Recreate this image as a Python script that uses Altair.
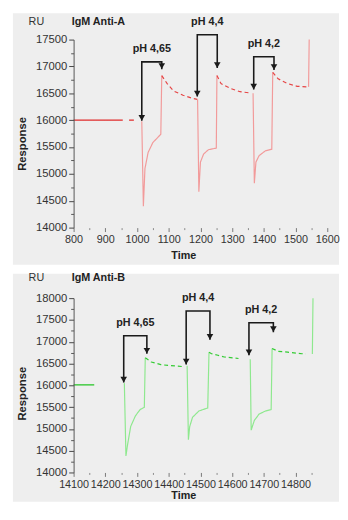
import altair as alt
import pandas as pd

# ---------------- Panel A : IgM Anti-A (red) ----------------
a_seg_t = [
    [800, 955],
    [975, 990],
    [1015, 1020, 1025, 1035, 1050, 1065, 1075, 1078],
    [1078, 1095, 1115, 1145, 1175, 1190],
    [1191, 1195, 1200, 1210, 1225, 1245, 1250, 1252],
    [1252, 1265, 1295, 1325, 1360],
    [1366, 1370, 1375, 1385, 1405, 1425, 1428],
    [1428, 1445, 1475, 1505, 1538],
    [1541, 1543],
]
a_seg_v = [
    [16000, 16000],
    [16000, 16000],
    [15980, 14400, 15100, 15400, 15585, 15675, 15740, 16830],
    [16830, 16680, 16545, 16465, 16405, 16388],
    [16390, 14670, 15220, 15370, 15450, 15475, 15480, 16830],
    [16830, 16680, 16590, 16530, 16505],
    [16500, 14825, 15220, 15340, 15430, 15460, 16890],
    [16890, 16770, 16680, 16630, 16620],
    [16620, 17500],
]
a_seg_kind = ["base", "base", "spike", "tail", "spike", "tail", "spike", "tail", "spike"]

a_br_left = [1015, 1190, 1368]
a_br_right = [1078, 1253, 1432]
a_br_top = [17085, 17590, 17180]
a_br_ltip = [15990, 16440, 16570]
a_br_rtip = [16950, 16970, 16935]
a_br_label = ["pH 4,65", "pH 4,4", "pH 4,2"]

a_xticks = [800, 900, 1000, 1100, 1200, 1300, 1400, 1500, 1600]
a_xminor = [850, 950, 1050, 1150, 1250, 1350, 1450, 1550]
a_yticks = [14000, 14500, 15000, 15500, 16000, 16500, 17000, 17500]
a_yminor = [14250, 14750, 15250, 15750, 16250, 16750, 17250]

# ---------------- Panel B : IgM Anti-B (green) ----------------
b_seg_t = [
    [14100, 14165],
    [14260, 14265, 14270, 14280, 14295, 14310, 14323, 14326],
    [14326, 14345, 14375, 14400, 14445],
    [14458, 14462, 14466, 14475, 14495, 14523, 14527],
    [14527, 14535, 14555, 14575, 14620],
    [14657, 14660, 14670, 14685, 14705, 14723, 14726],
    [14726, 14745, 14775, 14820, 14832],
    [14853, 14855],
]
b_seg_v = [
    [16010, 16010],
    [16050, 14380, 14630, 15055, 15300, 15445, 15495, 16630],
    [16630, 16535, 16475, 16455, 16430],
    [16450, 14750, 15050, 15265, 15410, 15480, 16760],
    [16760, 16725, 16690, 16650, 16615],
    [16600, 14970, 15195, 15340, 15410, 15445, 16845],
    [16845, 16780, 16760, 16725, 16720],
    [16720, 18000],
]
b_seg_kind = ["base", "spike", "tail", "spike", "tail", "spike", "tail", "spike"]

b_br_left = [14258, 14455, 14653]
b_br_right = [14331, 14530, 14730]
b_br_top = [17135, 17705, 17435]
b_br_ltip = [16065, 16475, 16690]
b_br_rtip = [16725, 17045, 17220]
b_br_label = ["pH 4,65", "pH 4,4", "pH 4,2"]

b_xticks = [14100, 14200, 14300, 14400, 14500, 14600, 14700, 14800]
b_xminor = [14150, 14250, 14350, 14450, 14550, 14650, 14750, 14850]
b_yticks = [14000, 14500, 15000, 15500, 16000, 16500, 17000, 17500, 18000]
b_yminor = [14250, 14750, 15250, 15750, 16250, 16750, 17250, 17750]

FONT = "Liberation Sans"
BG = "#eeeeee"


def sensor_df(seg_t, seg_v, kinds):
    rows = []
    for i, (ts, vs, k) in enumerate(zip(seg_t, seg_v, kinds)):
        for j, (t, v) in enumerate(zip(ts, vs)):
            rows.append(dict(t=t, v=v, seg=i, kind=k, ord=j))
    return pd.DataFrame(rows)


def bracket_dfs(left, right, top, ltip, rtip, labels):
    lines, heads, texts = [], [], []
    for i in range(len(left)):
        pts = [(left[i], ltip[i]), (left[i], top[i]), (right[i], top[i]), (right[i], rtip[i])]
        for j, (t, v) in enumerate(pts):
            lines.append(dict(t=t, v=v, b=i, ord=j))
        heads.append(dict(t=left[i], v=ltip[i]))
        heads.append(dict(t=right[i], v=rtip[i]))
        texts.append(dict(t=(left[i] + right[i]) / 2, v=top[i], label=labels[i]))
    return pd.DataFrame(lines), pd.DataFrame(heads), pd.DataFrame(texts)


def panel(seg_t, seg_v, kinds, colors, xdom, ydom, xticks, xminor, yticks, yminor,
          br, title, w, h, bg_top, bg_bottom, text_y, ytitle_y, xtitle_pad):
    xs = alt.Scale(domain=xdom, nice=False, zero=False)
    ys = alt.Scale(domain=ydom, nice=False, zero=False)
    df = sensor_df(seg_t, seg_v, kinds)
    bl, bh, bt = bracket_dfs(*br)
    one = pd.DataFrame({"a": [0]})

    xaxis = alt.Axis(values=xticks, format="d", domain=False, grid=False, tickSize=4,
                     tickColor="#777", labelFontSize=11, labelColor="#333", labelPadding=2,
                     labelFont=FONT, labelOverlap=False, labelFlush=False,
                     title="Time", titleFont=FONT, titleFontSize=11, titleFontWeight="bold",
                     titleColor="#222", titlePadding=xtitle_pad, titleX=112, orient="bottom",
                     zindex=1)
    yaxis = alt.Axis(values=yticks, format="d", domain=True, domainColor="#555", grid=False,
                     tickSize=5, tickColor="#444", labelFontSize=11.5, labelColor="#333",
                     labelPadding=2, labelFont=FONT, labelOverlap=False, labelFlush=False,
                     title="Response", titleFont=FONT, titleFontSize=11.5,
                     titleFontWeight="bold", titleColor="#222", titlePadding=8,
                     titleY=ytitle_y, orient="left", zindex=1)
    xminor_axis = alt.Axis(values=xminor, domain=False, grid=False, labels=False, tickSize=2,
                           tickColor="#888", title=None, orient="bottom", zindex=1)
    yminor_axis = alt.Axis(values=yminor, domain=False, grid=False, labels=False, tickSize=3,
                           tickColor="#555", title=None, orient="left", zindex=1)

    bg = alt.Chart(one).mark_rect(color=BG).encode(
        x=alt.value(-62), x2=alt.value(w + 12), y=alt.value(bg_top), y2=alt.value(bg_bottom))

    kdom = ["base", "spike", "tail"]
    line = alt.Chart(df).mark_line(strokeWidth=1.2).encode(
        x=alt.X("t:Q", scale=xs, axis=xaxis),
        y=alt.Y("v:Q", scale=ys, axis=yaxis),
        detail="seg:N",
        order="ord:Q",
        color=alt.Color("kind:N", scale=alt.Scale(domain=kdom, range=colors), legend=None),
        strokeDash=alt.StrokeDash("kind:N", scale=alt.Scale(domain=kdom, range=[[1, 0], [1, 0], [4, 3]]),
                                  legend=None),
    )

    brl = alt.Chart(bl).mark_line(color="#1a1a1a", strokeWidth=1.6).encode(
        x=alt.X("t:Q", scale=xs, axis=None),
        y=alt.Y("v:Q", scale=ys, axis=None),
        detail="b:N",
        order="ord:Q",
    )
    heads = alt.Chart(bh).mark_point(shape="triangle-down", filled=True, size=45, opacity=1,
                                     color="#1a1a1a", yOffset=-3).encode(
        x=alt.X("t:Q", scale=xs, axis=xminor_axis),
        y=alt.Y("v:Q", scale=ys, axis=yminor_axis),
    )
    labels = alt.Chart(bt).mark_text(font=FONT, fontSize=11, fontWeight="bold", color="#222",
                                     baseline="middle", dy=-13).encode(
        x=alt.X("t:Q", scale=xs, axis=None),
        y=alt.Y("v:Q", scale=ys, axis=None),
        text="label:N",
    )
    ru = alt.Chart(one).mark_text(text="RU", font=FONT, fontSize=11, color="#333",
                                  baseline="middle", align="center").encode(
        x=alt.value(-38), y=alt.value(text_y))
    ttl = alt.Chart(one).mark_text(text=title, font=FONT, fontSize=11, fontWeight="bold",
                                   color="#222", baseline="middle", align="left").encode(
        x=alt.value(-2), y=alt.value(text_y))

    return alt.layer(bg, line, brl, heads, labels, ru, ttl).resolve_axis(
        x="independent", y="independent").properties(width=w, height=h)


W = 259
top = panel(a_seg_t, a_seg_v, a_seg_kind, ["#e02a2a", "#f29a9a", "#e64545"],
            [800, 1600], [14000, 17500], a_xticks, a_xminor, a_yticks, a_yminor,
            (a_br_left, a_br_right, a_br_top, a_br_ltip, a_br_rtip, a_br_label),
            "IgM Anti-A", W, 192, -27, 230, -18, 106, 6)
bottom = panel(b_seg_t, b_seg_v, b_seg_kind, ["#22c422", "#8ee88e", "#33cc33"],
               [14100, 14900], [14000, 18000], b_xticks, b_xminor, b_yticks, b_yminor,
               (b_br_left, b_br_right, b_br_top, b_br_ltip, b_br_rtip, b_br_label),
               "IgM Anti-B", W, 178, -25, 208, -20, 97, 1)

chart = alt.vconcat(top, bottom, spacing=8).resolve_scale(
    color="independent", strokeDash="independent"
).properties(
    padding={"left": 5, "top": 0, "right": 0, "bottom": 0},
    background="white",
).configure_view(stroke=None)

chart.save("out.html", embed_options={"renderer": "svg", "actions": False})
